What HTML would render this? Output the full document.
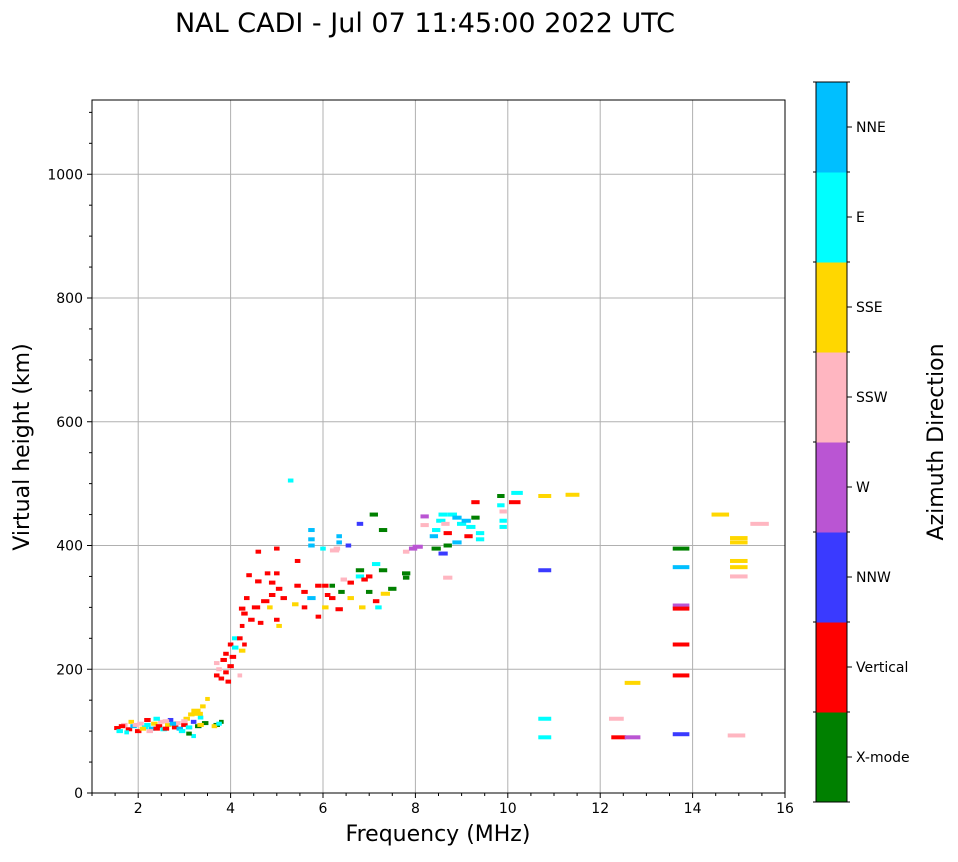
<!DOCTYPE html>
<html><head><meta charset="utf-8"><style>
body{margin:0;background:#fff;font-family:"Liberation Sans","DejaVu Sans",sans-serif}
svg text{font-family:"DejaVu Sans","Liberation Sans",sans-serif}
</style></head><body>
<svg id="chart" width="958" height="857">
<text x="425" y="32" text-anchor="middle" font-size="27">NAL CADI - Jul 07 11:45:00 2022 UTC</text>
<g id="grid"></g><g id="marks"></g><g id="axes"></g><g id="cbar"></g>
</svg>
<script>
const categories=["X-mode","Vertical","NNW","W","SSW","SSE","E","NNE"];
const colors=["#008000","#ff0000","#3a3aff","#ba55d3","#ffb6c1","#ffd700","#00ffff","#00bfff"];
const xTicks=[2,4,6,8,10,12,14,16];
const yTicks=[0,200,400,600,800,1000];
// [freq MHz, virtual height km, direction index, freq span MHz]
const echoes=[
[1.55,105,1,.14],[1.6,100,6,.14],[1.7,110,4,.14],[1.8,103,1,.14],[1.85,115,5,.12],[1.9,108,7,.14],[2.0,100,1,.14],[2.05,112,4,.14],[2.15,106,6,.14],[2.2,118,1,.14],[2.3,104,7,.14],[2.35,112,5,.14],[2.45,108,1,.14],[2.5,115,4,.14],[2.55,103,6,.14],[2.65,110,5,.14],[2.7,118,2,.12],[2.8,106,1,.14],[2.85,113,4,.14],[2.9,104,7,.14],[3.0,110,1,.14],[3.05,120,5,.14],[3.1,106,6,.14],[3.15,127,5,.14],[3.2,115,2,.12],[3.25,133,5,.2],[3.3,108,0,.14],[3.35,122,6,.12],[3.4,140,5,.12],[3.45,113,0,.14],[3.5,152,5,.1],[3.2,92,6,.1],[3.7,110,0,.14],[3.8,115,0,.1],[3.65,108,5,.12],[3.75,112,6,.12],[1.75,98,6,.1],[2.25,100,4,.14],[2.6,104,1,.14],[2.95,100,6,.14],[3.1,96,0,.12],[2.4,120,6,.14],[1.65,108,1,.14],[1.95,110,4,.14],[2.1,104,5,.14],[2.4,104,1,.14],[2.75,112,7,.14],[3.0,116,4,.14],[3.35,110,5,.14],[2.2,110,6,.14],[2.6,116,4,.14],[3.3,128,5,.2],
[3.7,190,1,.12],[3.75,200,4,.12],[3.7,210,4,.12],[3.8,185,1,.12],[3.85,215,1,.14],[3.9,225,1,.12],[3.9,195,1,.12],[4.0,240,1,.12],[4.0,205,1,.14],[4.1,235,6,.14],[4.1,250,6,.14],[4.2,250,1,.12],[4.25,230,5,.14],[4.3,240,1,.1],[4.05,220,1,.14],[3.95,180,1,.12],[4.2,190,4,.1],[4.25,270,1,.1],[4.25,298,1,.14],[4.3,290,1,.14],[4.35,315,1,.12],[4.4,352,1,.12],[4.45,280,1,.14],[4.55,300,1,.18],[4.6,390,1,.12],[4.65,275,1,.12],[4.6,342,1,.14],[4.75,310,1,.18],[4.8,355,1,.12],[4.85,300,5,.12],[4.9,340,1,.14],[4.9,320,1,.14],[5.0,395,1,.12],[5.0,355,1,.12],[5.05,330,1,.14],[5.05,270,5,.12],[5.15,315,1,.14],[5.0,280,1,.12],[5.3,505,6,.12],[5.45,375,1,.12],[5.45,335,1,.14],[5.4,305,5,.14],[5.6,325,1,.14],[5.6,300,1,.12],[5.75,425,7,.14],[5.75,410,7,.14],[5.75,400,7,.14],[5.75,315,7,.18],[5.9,335,1,.14],[5.9,285,1,.12],[6.0,395,6,.12],[6.05,335,1,.14],[6.05,300,5,.14],[6.1,320,1,.12],[6.2,335,0,.12],[6.2,315,1,.14],[6.3,395,4,.14],[6.35,415,7,.12],[6.35,405,7,.12],[6.35,297,1,.16],[6.4,325,0,.14],[6.45,345,4,.14],[6.55,400,2,.12],[6.6,340,1,.14],[6.6,315,5,.14],[6.8,435,2,.14],[6.8,360,0,.18],[6.8,350,6,.18],[6.85,300,5,.14],[6.9,345,1,.14],[7.0,325,0,.14],[7.0,350,1,.14],[7.1,450,0,.18],[7.15,370,6,.18],[7.15,310,1,.14],[7.2,300,6,.14],[7.3,425,0,.18],[7.3,360,0,.18],[7.35,322,5,.2],[7.5,330,0,.18],[7.8,355,0,.18],[7.8,348,0,.14],[7.8,390,4,.14],[7.95,395,3,.18],[6.25,392,4,.2],
[8.2,447,3,.18],[8.2,433,4,.18],[8.4,415,7,.18],[8.45,425,6,.18],[8.55,440,6,.2],[8.6,450,6,.2],[8.65,435,4,.18],[8.7,420,1,.18],[8.7,400,0,.18],[8.8,450,6,.2],[8.9,445,7,.2],[8.9,405,7,.2],[9.0,435,6,.2],[9.1,440,7,.2],[9.15,415,1,.18],[9.2,430,6,.2],[9.3,470,1,.18],[9.3,445,0,.18],[9.4,420,6,.18],[9.4,410,6,.18],[9.85,480,0,.16],[9.85,465,6,.16],[9.9,455,4,.16],[9.9,440,6,.16],[9.9,430,6,.16],[10.2,485,6,.25],[10.15,470,1,.25],[10.8,480,5,.28],[11.4,482,5,.3],[8.6,387,2,.2],[8.7,348,4,.2],[8.05,398,3,.22],[8.45,395,0,.2],
[10.8,360,2,.28],[10.8,120,6,.28],[10.8,90,6,.28],[12.7,178,5,.34],[12.35,120,4,.32],[12.4,90,1,.32],[12.7,90,3,.34],[13.75,395,0,.36],[13.75,365,7,.36],[13.75,303,3,.36],[13.75,298,1,.36],[13.75,240,1,.36],[13.75,190,1,.36],[13.75,95,2,.36],[14.6,450,5,.38],[15.0,412,5,.38],[15.0,405,5,.38],[15.0,375,5,.38],[15.0,365,5,.38],[15.0,350,4,.38],[15.45,435,4,.4],[14.95,93,4,.38]
];
const NS="http://www.w3.org/2000/svg";
const L=92,R=785,T=100,B=793,XMIN=1,XMAX=16,YMAX=1120;
const xs=f=>L+(f-XMIN)/(XMAX-XMIN)*(R-L);
const ys=h=>B-h/YMAX*(B-T);
function mk(tag,attrs,parent,txt){const e=document.createElementNS(NS,tag);for(const k in attrs)e.setAttribute(k,attrs[k]);if(txt!==undefined)e.textContent=txt;document.getElementById(parent).appendChild(e);return e;}
xTicks.forEach(t=>{const x=xs(t);
 if(t<XMAX){const g=mk('line',{x1:x,x2:x,y1:T,y2:B,stroke:'#b0b0b0','stroke-width':1},'grid');}
 mk('line',{x1:x,x2:x,y1:B,y2:B+5,stroke:'#000'},'axes');
 const l=mk('text',{x:x,y:B+20,'text-anchor':'middle','font-size':14},'axes',t);
 
 });
for(let f=1;f<16;f+=0.5){if(xTicks.includes(f))continue;mk('line',{x1:xs(f),x2:xs(f),y1:B,y2:B+3,stroke:'#000'},'axes');}
yTicks.forEach(t=>{const y=ys(t);
 if(t>0){const g=mk('line',{x1:L,x2:R,y1:y,y2:y,stroke:'#b0b0b0','stroke-width':1},'grid');}
 mk('line',{x1:L-5,x2:L,y1:y,y2:y,stroke:'#000'},'axes');
 const l=mk('text',{x:L-9,y:y+5,'text-anchor':'end','font-size':14},'axes',t);
 
 });
for(let h=50;h<YMAX;h+=50){if(h%200===0)continue;mk('line',{x1:L-3,x2:L,y1:ys(h),y2:ys(h),stroke:'#000'},'axes');}
echoes.forEach(e=>{const x0=xs(e[0]-e[3]/2),x1=xs(e[0]+e[3]/2);
 const r=mk('rect',{x:x0,y:ys(e[1])-2,width:x1-x0,height:4,fill:colors[e[2]]},'marks');
 
 });
const fr=mk('rect',{x:L,y:T,width:R-L,height:B-T,fill:'none',stroke:'#000','stroke-width':1},'axes');


const xt=mk('text',{x:438,y:841,'text-anchor':'middle','font-size':22},'axes','Frequency (MHz)');


const yt=mk('text',{x:0,y:0,'text-anchor':'middle','font-size':22,transform:'translate(29,447) rotate(-90)'},'axes','Virtual height (km)');


const CT=82,CB=802,CL=816,CW=31,seg=(CB-CT)/categories.length;
categories.forEach((c,i)=>{const y=CB-(i+1)*seg;
 const r=mk('rect',{x:CL,y:y,width:CW,height:seg+0.5,fill:colors[i]},'cbar');
 
 
 mk('line',{x1:CL+CW,x2:CL+CW+5,y1:y+seg/2,y2:y+seg/2,stroke:'#000'},'cbar');
 const l=mk('text',{x:CL+CW+9,y:y+seg/2+5,'font-size':14},'cbar',c);
 
 });
for(let i=0;i<=categories.length;i++){const y=CT+i*seg;mk('line',{x1:CL+CW,x2:CL+CW+3,y1:y,y2:y,stroke:'#000'},'cbar');mk('line',{x1:CL-3,x2:CL,y1:y,y2:y,stroke:'#000'},'cbar');}
mk('rect',{x:CL,y:CT,width:CW,height:CB-CT,fill:'none',stroke:'#000'},'cbar');
const ct=mk('text',{x:0,y:0,'text-anchor':'middle','font-size':22,transform:'translate(943,442) rotate(-90)'},'cbar','Azimuth Direction');


</script>
</body></html>
